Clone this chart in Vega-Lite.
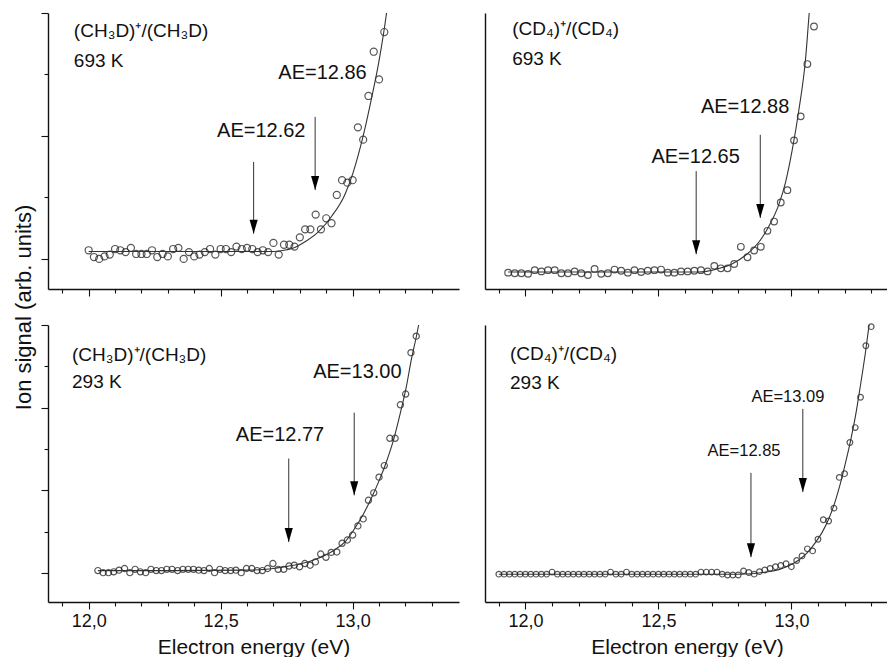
{
  "$schema": "https://vega.github.io/schema/vega-lite/v6.json",
  "padding": {"left": 12, "top": 12, "right": 0, "bottom": 0},
  "background": "white",
  "columns": 2,
  "spacing": {"row": 36, "column": 26},
  "bounds": "flush",
  "config": {
    "view": {"stroke": null},
    "axis": {"domainColor": "#111", "domainWidth": 1.4, "tickColor": "#111", "tickWidth": 1.1, "grid": false, "tickCount": 40,
      "labelFont": "Liberation Sans", "titleFont": "Liberation Sans", "labelColor": "#111", "titleColor": "#111", "titleFontWeight": "normal"},
    "text": {"font": "Liberation Sans", "color": "#111"}
  },
  "datasets": {
    "pts": [
      {"p":"TL","E":12.00,"v":0.14},{"p":"TL","E":12.02,"v":0.03},{"p":"TL","E":12.04,"v":0.00},{"p":"TL","E":12.06,"v":0.04},{"p":"TL","E":12.08,"v":0.07},
      {"p":"TL","E":12.10,"v":0.16},{"p":"TL","E":12.12,"v":0.14},{"p":"TL","E":12.14,"v":0.11},{"p":"TL","E":12.16,"v":0.18},{"p":"TL","E":12.18,"v":0.08},
      {"p":"TL","E":12.20,"v":0.08},{"p":"TL","E":12.22,"v":0.08},{"p":"TL","E":12.24,"v":0.14},{"p":"TL","E":12.26,"v":0.03},{"p":"TL","E":12.28,"v":0.08},
      {"p":"TL","E":12.30,"v":0.04},{"p":"TL","E":12.32,"v":0.16},{"p":"TL","E":12.34,"v":0.18},{"p":"TL","E":12.36,"v":0.00},{"p":"TL","E":12.38,"v":0.11},
      {"p":"TL","E":12.40,"v":0.04},{"p":"TL","E":12.42,"v":0.07},{"p":"TL","E":12.44,"v":0.11},{"p":"TL","E":12.46,"v":0.16},{"p":"TL","E":12.48,"v":0.07},
      {"p":"TL","E":12.50,"v":0.16},{"p":"TL","E":12.52,"v":0.16},{"p":"TL","E":12.54,"v":0.11},{"p":"TL","E":12.56,"v":0.20},{"p":"TL","E":12.58,"v":0.16},
      {"p":"TL","E":12.60,"v":0.18},{"p":"TL","E":12.62,"v":0.16},{"p":"TL","E":12.64,"v":0.11},{"p":"TL","E":12.66,"v":0.14},{"p":"TL","E":12.68,"v":0.11},
      {"p":"TL","E":12.70,"v":0.26},{"p":"TL","E":12.72,"v":0.07},{"p":"TL","E":12.74,"v":0.23},{"p":"TL","E":12.76,"v":0.23},{"p":"TL","E":12.78,"v":0.20},
      {"p":"TL","E":12.80,"v":0.35},{"p":"TL","E":12.82,"v":0.48},{"p":"TL","E":12.84,"v":0.48},{"p":"TL","E":12.86,"v":0.72},{"p":"TL","E":12.88,"v":0.48},
      {"p":"TL","E":12.90,"v":0.66},{"p":"TL","E":12.92,"v":0.58},{"p":"TL","E":12.94,"v":1.04},{"p":"TL","E":12.96,"v":1.28},{"p":"TL","E":12.98,"v":1.24},
      {"p":"TL","E":13.00,"v":1.28},{"p":"TL","E":13.02,"v":2.14},{"p":"TL","E":13.04,"v":1.94},{"p":"TL","E":13.06,"v":2.65},{"p":"TL","E":13.08,"v":3.37},
      {"p":"TL","E":13.10,"v":2.92},{"p":"TL","E":13.12,"v":3.69},

      {"p":"TR","E":11.935,"v":-0.01},{"p":"TR","E":11.960,"v":-0.02},{"p":"TR","E":11.985,"v":-0.02},{"p":"TR","E":12.010,"v":-0.03},{"p":"TR","E":12.035,"v":0.03},
      {"p":"TR","E":12.060,"v":0.01},{"p":"TR","E":12.085,"v":0.03},{"p":"TR","E":12.110,"v":0.03},{"p":"TR","E":12.135,"v":-0.02},{"p":"TR","E":12.160,"v":-0.02},
      {"p":"TR","E":12.185,"v":0.01},{"p":"TR","E":12.210,"v":-0.02},{"p":"TR","E":12.235,"v":-0.05},{"p":"TR","E":12.260,"v":0.05},{"p":"TR","E":12.285,"v":-0.03},
      {"p":"TR","E":12.310,"v":-0.02},{"p":"TR","E":12.335,"v":0.04},{"p":"TR","E":12.360,"v":0.02},{"p":"TR","E":12.385,"v":-0.01},{"p":"TR","E":12.410,"v":0.03},
      {"p":"TR","E":12.435,"v":0.00},{"p":"TR","E":12.460,"v":0.02},{"p":"TR","E":12.485,"v":0.03},{"p":"TR","E":12.510,"v":0.04},{"p":"TR","E":12.535,"v":-0.01},
      {"p":"TR","E":12.560,"v":-0.01},{"p":"TR","E":12.585,"v":0.01},{"p":"TR","E":12.610,"v":0.01},{"p":"TR","E":12.635,"v":0.02},{"p":"TR","E":12.660,"v":0.03},
      {"p":"TR","E":12.685,"v":0.01},{"p":"TR","E":12.710,"v":0.10},{"p":"TR","E":12.735,"v":0.06},{"p":"TR","E":12.760,"v":0.06},{"p":"TR","E":12.785,"v":0.13},
      {"p":"TR","E":12.810,"v":0.41},{"p":"TR","E":12.835,"v":0.24},{"p":"TR","E":12.860,"v":0.35},{"p":"TR","E":12.885,"v":0.41},{"p":"TR","E":12.910,"v":0.67},
      {"p":"TR","E":12.935,"v":0.82},{"p":"TR","E":12.960,"v":1.13},{"p":"TR","E":12.985,"v":1.33},{"p":"TR","E":13.010,"v":2.14},{"p":"TR","E":13.035,"v":2.53},
      {"p":"TR","E":13.060,"v":3.38},{"p":"TR","E":13.085,"v":3.99},

      {"p":"BL","E":12.035,"v":0.06},{"p":"BL","E":12.055,"v":0.01},{"p":"BL","E":12.075,"v":0.01},{"p":"BL","E":12.095,"v":0.03},{"p":"BL","E":12.115,"v":0.07},
      {"p":"BL","E":12.136,"v":0.11},{"p":"BL","E":12.156,"v":0.01},{"p":"BL","E":12.176,"v":0.09},{"p":"BL","E":12.196,"v":0.03},{"p":"BL","E":12.216,"v":0.01},
      {"p":"BL","E":12.236,"v":0.09},{"p":"BL","E":12.256,"v":0.06},{"p":"BL","E":12.276,"v":0.06},{"p":"BL","E":12.296,"v":0.09},{"p":"BL","E":12.316,"v":0.09},
      {"p":"BL","E":12.337,"v":0.06},{"p":"BL","E":12.357,"v":0.09},{"p":"BL","E":12.377,"v":0.09},{"p":"BL","E":12.397,"v":0.09},{"p":"BL","E":12.417,"v":0.07},
      {"p":"BL","E":12.437,"v":0.06},{"p":"BL","E":12.457,"v":0.11},{"p":"BL","E":12.477,"v":0.01},{"p":"BL","E":12.497,"v":0.09},{"p":"BL","E":12.517,"v":0.06},
      {"p":"BL","E":12.538,"v":0.06},{"p":"BL","E":12.558,"v":0.07},{"p":"BL","E":12.578,"v":0.01},{"p":"BL","E":12.598,"v":0.11},{"p":"BL","E":12.618,"v":0.11},
      {"p":"BL","E":12.638,"v":0.06},{"p":"BL","E":12.658,"v":0.06},{"p":"BL","E":12.678,"v":0.11},{"p":"BL","E":12.698,"v":0.23},{"p":"BL","E":12.718,"v":0.09},
      {"p":"BL","E":12.739,"v":0.09},{"p":"BL","E":12.759,"v":0.17},{"p":"BL","E":12.779,"v":0.19},{"p":"BL","E":12.799,"v":0.15},{"p":"BL","E":12.819,"v":0.23},
      {"p":"BL","E":12.839,"v":0.19},{"p":"BL","E":12.859,"v":0.27},{"p":"BL","E":12.879,"v":0.46},{"p":"BL","E":12.899,"v":0.38},{"p":"BL","E":12.919,"v":0.50},
      {"p":"BL","E":12.940,"v":0.51},{"p":"BL","E":12.960,"v":0.72},{"p":"BL","E":12.980,"v":0.80},{"p":"BL","E":13.000,"v":0.92},{"p":"BL","E":13.020,"v":1.14},
      {"p":"BL","E":13.040,"v":1.31},{"p":"BL","E":13.060,"v":1.76},{"p":"BL","E":13.080,"v":1.94},{"p":"BL","E":13.100,"v":2.32},{"p":"BL","E":13.120,"v":2.60},
      {"p":"BL","E":13.141,"v":3.26},{"p":"BL","E":13.161,"v":3.26},{"p":"BL","E":13.181,"v":4.07},{"p":"BL","E":13.201,"v":4.33},{"p":"BL","E":13.221,"v":5.33},
      {"p":"BL","E":13.241,"v":5.73},

      {"p":"BR","E":11.90,"v":0.02},{"p":"BR","E":11.92,"v":0.02},{"p":"BR","E":11.94,"v":0.02},{"p":"BR","E":11.96,"v":0.02},{"p":"BR","E":11.98,"v":0.02},
      {"p":"BR","E":12.00,"v":0.02},{"p":"BR","E":12.02,"v":0.02},{"p":"BR","E":12.04,"v":0.02},{"p":"BR","E":12.06,"v":0.02},{"p":"BR","E":12.08,"v":0.02},
      {"p":"BR","E":12.10,"v":0.07},{"p":"BR","E":12.12,"v":0.02},{"p":"BR","E":12.14,"v":0.02},{"p":"BR","E":12.16,"v":0.02},{"p":"BR","E":12.18,"v":0.02},
      {"p":"BR","E":12.20,"v":0.02},{"p":"BR","E":12.22,"v":0.02},{"p":"BR","E":12.24,"v":0.02},{"p":"BR","E":12.26,"v":0.02},{"p":"BR","E":12.28,"v":0.02},
      {"p":"BR","E":12.30,"v":0.02},{"p":"BR","E":12.32,"v":0.07},{"p":"BR","E":12.34,"v":0.02},{"p":"BR","E":12.36,"v":0.02},{"p":"BR","E":12.38,"v":0.07},
      {"p":"BR","E":12.40,"v":0.02},{"p":"BR","E":12.42,"v":0.02},{"p":"BR","E":12.44,"v":0.02},{"p":"BR","E":12.46,"v":0.02},{"p":"BR","E":12.48,"v":0.02},
      {"p":"BR","E":12.50,"v":0.02},{"p":"BR","E":12.52,"v":0.02},{"p":"BR","E":12.54,"v":0.02},{"p":"BR","E":12.56,"v":0.02},{"p":"BR","E":12.58,"v":0.02},
      {"p":"BR","E":12.60,"v":0.02},{"p":"BR","E":12.62,"v":0.02},{"p":"BR","E":12.64,"v":0.02},{"p":"BR","E":12.66,"v":0.07},{"p":"BR","E":12.68,"v":0.07},
      {"p":"BR","E":12.70,"v":0.07},{"p":"BR","E":12.72,"v":0.07},{"p":"BR","E":12.74,"v":0.02},{"p":"BR","E":12.76,"v":0.00},{"p":"BR","E":12.78,"v":0.00},
      {"p":"BR","E":12.80,"v":0.00},{"p":"BR","E":12.82,"v":0.10},{"p":"BR","E":12.84,"v":0.06},{"p":"BR","E":12.86,"v":0.02},{"p":"BR","E":12.88,"v":0.08},
      {"p":"BR","E":12.90,"v":0.12},{"p":"BR","E":12.92,"v":0.16},{"p":"BR","E":12.94,"v":0.20},{"p":"BR","E":12.96,"v":0.23},{"p":"BR","E":12.98,"v":0.27},
      {"p":"BR","E":13.00,"v":0.20},{"p":"BR","E":13.02,"v":0.35},{"p":"BR","E":13.04,"v":0.46},{"p":"BR","E":13.06,"v":0.63},{"p":"BR","E":13.08,"v":0.58},
      {"p":"BR","E":13.10,"v":0.86},{"p":"BR","E":13.12,"v":1.33},{"p":"BR","E":13.14,"v":1.30},{"p":"BR","E":13.16,"v":1.61},{"p":"BR","E":13.18,"v":2.35},
      {"p":"BR","E":13.20,"v":2.44},{"p":"BR","E":13.22,"v":3.19},{"p":"BR","E":13.24,"v":3.55},{"p":"BR","E":13.26,"v":4.28},{"p":"BR","E":13.28,"v":5.52},
      {"p":"BR","E":13.30,"v":5.98}
    ],
    "fit": [
      {"p":"TL","E":12.00,"v":0.12},{"p":"TL","E":12.30,"v":0.12},{"p":"TL","E":12.60,"v":0.12},{"p":"TL","E":12.70,"v":0.12},{"p":"TL","E":12.74,"v":0.14},
      {"p":"TL","E":12.77,"v":0.17},{"p":"TL","E":12.82,"v":0.28},{"p":"TL","E":12.87,"v":0.44},{"p":"TL","E":12.92,"v":0.69},{"p":"TL","E":12.97,"v":1.04},
      {"p":"TL","E":13.00,"v":1.38},{"p":"TL","E":13.04,"v":2.00},{"p":"TL","E":13.07,"v":2.58},{"p":"TL","E":13.10,"v":3.22},{"p":"TL","E":13.13,"v":4.05},{"p":"TL","E":13.14,"v":4.40},

      {"p":"TR","E":11.935,"v":0.0},{"p":"TR","E":12.30,"v":0.0},{"p":"TR","E":12.65,"v":0.0},{"p":"TR","E":12.68,"v":0.01},{"p":"TR","E":12.73,"v":0.06},
      {"p":"TR","E":12.78,"v":0.14},{"p":"TR","E":12.83,"v":0.28},{"p":"TR","E":12.88,"v":0.50},{"p":"TR","E":12.915,"v":0.74},{"p":"TR","E":12.953,"v":1.10},
      {"p":"TR","E":12.977,"v":1.44},{"p":"TR","E":13.003,"v":1.98},{"p":"TR","E":13.028,"v":2.63},{"p":"TR","E":13.053,"v":3.45},{"p":"TR","E":13.068,"v":4.26},{"p":"TR","E":13.075,"v":4.60},

      {"p":"BL","E":12.035,"v":0.06},{"p":"BL","E":12.30,"v":0.06},{"p":"BL","E":12.60,"v":0.07},{"p":"BL","E":12.70,"v":0.11},{"p":"BL","E":12.758,"v":0.17},
      {"p":"BL","E":12.808,"v":0.23},{"p":"BL","E":12.858,"v":0.33},{"p":"BL","E":12.896,"v":0.43},{"p":"BL","E":12.934,"v":0.57},{"p":"BL","E":12.972,"v":0.76},
      {"p":"BL","E":13.004,"v":1.04},{"p":"BL","E":13.042,"v":1.44},{"p":"BL","E":13.073,"v":1.84},{"p":"BL","E":13.098,"v":2.20},{"p":"BL","E":13.124,"v":2.62},
      {"p":"BL","E":13.155,"v":3.22},{"p":"BL","E":13.180,"v":3.85},{"p":"BL","E":13.203,"v":4.49},{"p":"BL","E":13.222,"v":5.15},{"p":"BL","E":13.244,"v":5.80},{"p":"BL","E":13.250,"v":6.00},

      {"p":"BR","E":11.90,"v":0.02},{"p":"BR","E":12.50,"v":0.02},{"p":"BR","E":12.80,"v":0.02},{"p":"BR","E":12.852,"v":0.03},{"p":"BR","E":12.902,"v":0.07},
      {"p":"BR","E":12.953,"v":0.13},{"p":"BR","E":12.990,"v":0.22},{"p":"BR","E":13.028,"v":0.36},{"p":"BR","E":13.059,"v":0.53},{"p":"BR","E":13.090,"v":0.78},
      {"p":"BR","E":13.115,"v":1.02},{"p":"BR","E":13.141,"v":1.36},{"p":"BR","E":13.165,"v":1.78},{"p":"BR","E":13.184,"v":2.20},{"p":"BR","E":13.203,"v":2.69},
      {"p":"BR","E":13.222,"v":3.22},{"p":"BR","E":13.241,"v":3.83},{"p":"BR","E":13.259,"v":4.54},{"p":"BR","E":13.278,"v":5.34},{"p":"BR","E":13.293,"v":6.06}
    ],
    "arrows": [
      {"p":"TL","E":12.625,"top":1.577,"tip":0.41},{"p":"TL","E":12.858,"top":2.31,"tip":1.12},
      {"p":"TR","E":12.642,"top":1.64,"tip":0.29},{"p":"TR","E":12.883,"top":2.23,"tip":0.88},
      {"p":"BL","E":12.758,"top":2.77,"tip":0.75},{"p":"BL","E":13.006,"top":3.88,"tip":1.88},
      {"p":"BR","E":12.848,"top":2.46,"tip":0.43},{"p":"BR","E":13.043,"top":4.0,"tip":2.0}
    ],
    "labels": [
      {"p":"TL","k":"name","E":11.944,"v":3.61,"t":"(CH₃D)⁺/(CH₃D)"},{"p":"TL","k":"name","E":11.944,"v":3.12,"t":"693 K"},
      {"p":"TL","k":"ae","E":12.654,"v":1.98,"t":"AE=12.62"},{"p":"TL","k":"ae","E":12.886,"v":2.92,"t":"AE=12.86"},
      {"p":"TR","k":"name","E":11.950,"v":3.85,"t":"(CD₄)⁺/(CD₄)"},{"p":"TR","k":"name","E":11.950,"v":3.37,"t":"693 K"},
      {"p":"TR","k":"ae","E":12.640,"v":1.77,"t":"AE=12.65"},{"p":"TR","k":"ae","E":12.826,"v":2.59,"t":"AE=12.88"},
      {"p":"BL","k":"name","E":11.937,"v":5.13,"t":"(CH₃D)⁺/(CH₃D)"},{"p":"BL","k":"name","E":11.937,"v":4.47,"t":"293 K"},
      {"p":"BL","k":"ae","E":12.725,"v":3.20,"t":"AE=12.77"},{"p":"BL","k":"ae","E":13.018,"v":4.72,"t":"AE=13.00"},
      {"p":"BR","k":"name","E":11.942,"v":5.18,"t":"(CD₄)⁺/(CD₄)"},{"p":"BR","k":"name","E":11.942,"v":4.48,"t":"293 K"},
      {"p":"BR","k":"ae","E":12.822,"v":2.87,"t":"AE=12.85"},{"p":"BR","k":"ae","E":12.987,"v":4.17,"t":"AE=13.09"}
    ]
  },
  "concat": [
    {
      "width": 411, "height": 276,
      "layer": [
        {"data": {"name": "pts"}, "transform": [{"filter": "datum.p == 'TL'"}],
         "mark": {"type": "point", "shape": "circle", "filled": false, "size": 50, "stroke": "#111", "strokeWidth": 1.2},
         "encoding": {
           "x": {"field": "E", "type": "quantitative", "scale": {"domain": [11.846, 13.403], "nice": false, "zero": false},
                 "axis": {"values": [11.9,12.0,12.1,12.2,12.3,12.4,12.5,12.6,12.7,12.8,12.9,13.0,13.1,13.2,13.3], "tickCount": 40, "labels": false, "title": null,
                          "tickSize": {"condition": {"test": "abs(datum.value*2 - round(datum.value*2)) < 0.01", "value": 7}, "value": 4}}},
           "y": {"field": "v", "type": "quantitative", "scale": {"domain": [-0.49, 4.0], "nice": false, "zero": false},
                 "axis": {"values": [0,1,2,3,4], "tickCount": 40, "labels": false, "title": "Ion signal (arb. units)", "titleFontSize": 22,
                          "titleX": -13, "titleY": 294, "titleAngle": 270, "titleAlign": "center", "titleBaseline": "bottom",
                          "tickSize": {"condition": {"test": "datum.value % 2 == 0", "value": 7}, "value": 4}}}
         }},
        {"data": {"name": "fit"}, "transform": [{"filter": "datum.p == 'TL'"}],
         "mark": {"type": "line", "clip": true, "color": "#333", "strokeWidth": 1.1, "interpolate": "monotone"},
         "encoding": {"x": {"field": "E", "type": "quantitative"}, "y": {"field": "v", "type": "quantitative"}}},
        {"data": {"name": "arrows"}, "transform": [{"filter": "datum.p == 'TL'"}],
         "mark": {"type": "rule", "color": "#333", "strokeWidth": 1},
         "encoding": {"x": {"field": "E", "type": "quantitative"}, "y": {"field": "top", "type": "quantitative"}, "y2": {"field": "tip"}}},
        {"data": {"name": "arrows"}, "transform": [{"filter": "datum.p == 'TL'"}],
         "mark": {"type": "point", "shape": "M-0.29,-1L0.29,-1L0,0Z", "filled": true, "color": "#000", "size": 784, "opacity": 1},
         "encoding": {"x": {"field": "E", "type": "quantitative"}, "y": {"field": "tip", "type": "quantitative"}}},
        {"data": {"name": "labels"}, "transform": [{"filter": "datum.p == 'TL' && datum.k == 'name'"}],
         "mark": {"type": "text", "align": "left", "baseline": "alphabetic", "fontSize": 19},
         "encoding": {"x": {"field": "E", "type": "quantitative"}, "y": {"field": "v", "type": "quantitative"}, "text": {"field": "t"}}},
        {"data": {"name": "labels"}, "transform": [{"filter": "datum.p == 'TL' && datum.k == 'ae'"}],
         "mark": {"type": "text", "align": "center", "baseline": "alphabetic", "fontSize": 20},
         "encoding": {"x": {"field": "E", "type": "quantitative"}, "y": {"field": "v", "type": "quantitative"}, "text": {"field": "t"}}},
        {"mark": {"type": "rule", "color": "#111", "strokeWidth": 1.4}, "encoding": {"y": {"datum": 4.0}}},
        {"mark": {"type": "rule", "color": "#111", "strokeWidth": 1.4}, "encoding": {"x": {"datum": 13.403}}}
      ]
    },
    {
      "width": 404, "height": 276,
      "layer": [
        {"data": {"name": "pts"}, "transform": [{"filter": "datum.p == 'TR'"}],
         "mark": {"type": "point", "shape": "circle", "filled": false, "size": 44, "stroke": "#111", "strokeWidth": 1.2},
         "encoding": {
           "x": {"field": "E", "type": "quantitative", "scale": {"domain": [11.848, 13.367], "nice": false, "zero": false},
                 "axis": {"values": [11.9,12.0,12.1,12.2,12.3,12.4,12.5,12.6,12.7,12.8,12.9,13.0,13.1,13.2,13.3], "tickCount": 40, "labels": false, "title": null,
                          "tickSize": {"condition": {"test": "abs(datum.value*2 - round(datum.value*2)) < 0.01", "value": 7}, "value": 4}}},
           "y": {"field": "v", "type": "quantitative", "scale": {"domain": [-0.276, 4.21], "nice": false, "zero": false},
                 "axis": {"ticks": false, "labels": false, "title": null}}
         }},
        {"data": {"name": "fit"}, "transform": [{"filter": "datum.p == 'TR'"}],
         "mark": {"type": "line", "clip": true, "color": "#333", "strokeWidth": 1.1, "interpolate": "monotone"},
         "encoding": {"x": {"field": "E", "type": "quantitative"}, "y": {"field": "v", "type": "quantitative"}}},
        {"data": {"name": "arrows"}, "transform": [{"filter": "datum.p == 'TR'"}],
         "mark": {"type": "rule", "color": "#333", "strokeWidth": 1},
         "encoding": {"x": {"field": "E", "type": "quantitative"}, "y": {"field": "top", "type": "quantitative"}, "y2": {"field": "tip"}}},
        {"data": {"name": "arrows"}, "transform": [{"filter": "datum.p == 'TR'"}],
         "mark": {"type": "point", "shape": "M-0.29,-1L0.29,-1L0,0Z", "filled": true, "color": "#000", "size": 784, "opacity": 1},
         "encoding": {"x": {"field": "E", "type": "quantitative"}, "y": {"field": "tip", "type": "quantitative"}}},
        {"data": {"name": "labels"}, "transform": [{"filter": "datum.p == 'TR' && datum.k == 'name'"}],
         "mark": {"type": "text", "align": "left", "baseline": "alphabetic", "fontSize": 19},
         "encoding": {"x": {"field": "E", "type": "quantitative"}, "y": {"field": "v", "type": "quantitative"}, "text": {"field": "t"}}},
        {"data": {"name": "labels"}, "transform": [{"filter": "datum.p == 'TR' && datum.k == 'ae'"}],
         "mark": {"type": "text", "align": "center", "baseline": "alphabetic", "fontSize": 20},
         "encoding": {"x": {"field": "E", "type": "quantitative"}, "y": {"field": "v", "type": "quantitative"}, "text": {"field": "t"}}},
        {"mark": {"type": "rule", "color": "#111", "strokeWidth": 1.4}, "encoding": {"y": {"datum": 4.21}}}
      ]
    },
    {
      "width": 411, "height": 277,
      "layer": [
        {"data": {"name": "pts"}, "transform": [{"filter": "datum.p == 'BL'"}],
         "mark": {"type": "point", "shape": "circle", "filled": false, "size": 38, "stroke": "#111", "strokeWidth": 1.2},
         "encoding": {
           "x": {"field": "E", "type": "quantitative", "scale": {"domain": [11.846, 13.403], "nice": false, "zero": false},
                 "axis": {"values": [11.9,12.0,12.1,12.2,12.3,12.4,12.5,12.6,12.7,12.8,12.9,13.0,13.1,13.2,13.3], "tickCount": 40,
                          "labelExpr": "abs(datum.value*2 - round(datum.value*2)) < 0.01 ? replace(format(datum.value, '.1f'), '.', ',') : ''",
                          "labelFontSize": 18, "labelPadding": 3, "labelOverlap": false, "labelFlush": false,
                          "title": "Electron energy (eV)", "titleFontSize": 21, "titlePadding": 6,
                          "tickSize": {"condition": {"test": "abs(datum.value*2 - round(datum.value*2)) < 0.01", "value": 7}, "value": 4}}},
           "y": {"field": "v", "type": "quantitative", "scale": {"domain": [-0.7, 6.0], "nice": false, "zero": false},
                 "axis": {"values": [0,1,2,3,4,5,6], "tickCount": 40, "labels": false, "title": null,
                          "tickSize": {"condition": {"test": "datum.value % 2 == 0", "value": 7}, "value": 4}}}
         }},
        {"data": {"name": "fit"}, "transform": [{"filter": "datum.p == 'BL'"}],
         "mark": {"type": "line", "clip": true, "color": "#333", "strokeWidth": 1.1, "interpolate": "monotone"},
         "encoding": {"x": {"field": "E", "type": "quantitative"}, "y": {"field": "v", "type": "quantitative"}}},
        {"data": {"name": "arrows"}, "transform": [{"filter": "datum.p == 'BL'"}],
         "mark": {"type": "rule", "color": "#333", "strokeWidth": 1},
         "encoding": {"x": {"field": "E", "type": "quantitative"}, "y": {"field": "top", "type": "quantitative"}, "y2": {"field": "tip"}}},
        {"data": {"name": "arrows"}, "transform": [{"filter": "datum.p == 'BL'"}],
         "mark": {"type": "point", "shape": "M-0.29,-1L0.29,-1L0,0Z", "filled": true, "color": "#000", "size": 784, "opacity": 1},
         "encoding": {"x": {"field": "E", "type": "quantitative"}, "y": {"field": "tip", "type": "quantitative"}}},
        {"data": {"name": "labels"}, "transform": [{"filter": "datum.p == 'BL' && datum.k == 'name'"}],
         "mark": {"type": "text", "align": "left", "baseline": "alphabetic", "fontSize": 19},
         "encoding": {"x": {"field": "E", "type": "quantitative"}, "y": {"field": "v", "type": "quantitative"}, "text": {"field": "t"}}},
        {"data": {"name": "labels"}, "transform": [{"filter": "datum.p == 'BL' && datum.k == 'ae'"}],
         "mark": {"type": "text", "align": "center", "baseline": "alphabetic", "fontSize": 20},
         "encoding": {"x": {"field": "E", "type": "quantitative"}, "y": {"field": "v", "type": "quantitative"}, "text": {"field": "t"}}},
        {"mark": {"type": "rule", "color": "#111", "strokeWidth": 1.4}, "encoding": {"x": {"datum": 13.403}}}
      ]
    },
    {
      "width": 404, "height": 277,
      "layer": [
        {"data": {"name": "pts"}, "transform": [{"filter": "datum.p == 'BR'"}],
         "mark": {"type": "point", "shape": "circle", "filled": false, "size": 32, "stroke": "#111", "strokeWidth": 1.2},
         "encoding": {
           "x": {"field": "E", "type": "quantitative", "scale": {"domain": [11.848, 13.367], "nice": false, "zero": false},
                 "axis": {"values": [11.9,12.0,12.1,12.2,12.3,12.4,12.5,12.6,12.7,12.8,12.9,13.0,13.1,13.2,13.3], "tickCount": 40,
                          "labelExpr": "abs(datum.value*2 - round(datum.value*2)) < 0.01 ? replace(format(datum.value, '.1f'), '.', ',') : ''",
                          "labelFontSize": 18, "labelPadding": 3, "labelOverlap": false, "labelFlush": false,
                          "title": "Electron energy (eV)", "titleFontSize": 21, "titlePadding": 6,
                          "tickSize": {"condition": {"test": "abs(datum.value*2 - round(datum.value*2)) < 0.01", "value": 7}, "value": 4}}},
           "y": {"field": "v", "type": "quantitative", "scale": {"domain": [-0.65, 6.02], "nice": false, "zero": false},
                 "axis": {"ticks": false, "labels": false, "title": null}}
         }},
        {"data": {"name": "fit"}, "transform": [{"filter": "datum.p == 'BR'"}],
         "mark": {"type": "line", "clip": true, "color": "#333", "strokeWidth": 1.1, "interpolate": "monotone"},
         "encoding": {"x": {"field": "E", "type": "quantitative"}, "y": {"field": "v", "type": "quantitative"}}},
        {"data": {"name": "arrows"}, "transform": [{"filter": "datum.p == 'BR'"}],
         "mark": {"type": "rule", "color": "#333", "strokeWidth": 1},
         "encoding": {"x": {"field": "E", "type": "quantitative"}, "y": {"field": "top", "type": "quantitative"}, "y2": {"field": "tip"}}},
        {"data": {"name": "arrows"}, "transform": [{"filter": "datum.p == 'BR'"}],
         "mark": {"type": "point", "shape": "M-0.29,-1L0.29,-1L0,0Z", "filled": true, "color": "#000", "size": 784, "opacity": 1},
         "encoding": {"x": {"field": "E", "type": "quantitative"}, "y": {"field": "tip", "type": "quantitative"}}},
        {"data": {"name": "labels"}, "transform": [{"filter": "datum.p == 'BR' && datum.k == 'name'"}],
         "mark": {"type": "text", "align": "left", "baseline": "alphabetic", "fontSize": 19},
         "encoding": {"x": {"field": "E", "type": "quantitative"}, "y": {"field": "v", "type": "quantitative"}, "text": {"field": "t"}}},
        {"data": {"name": "labels"}, "transform": [{"filter": "datum.p == 'BR' && datum.k == 'ae'"}],
         "mark": {"type": "text", "align": "center", "baseline": "alphabetic", "fontSize": 16.5},
         "encoding": {"x": {"field": "E", "type": "quantitative"}, "y": {"field": "v", "type": "quantitative"}, "text": {"field": "t"}}}
      ]
    }
  ]
}
